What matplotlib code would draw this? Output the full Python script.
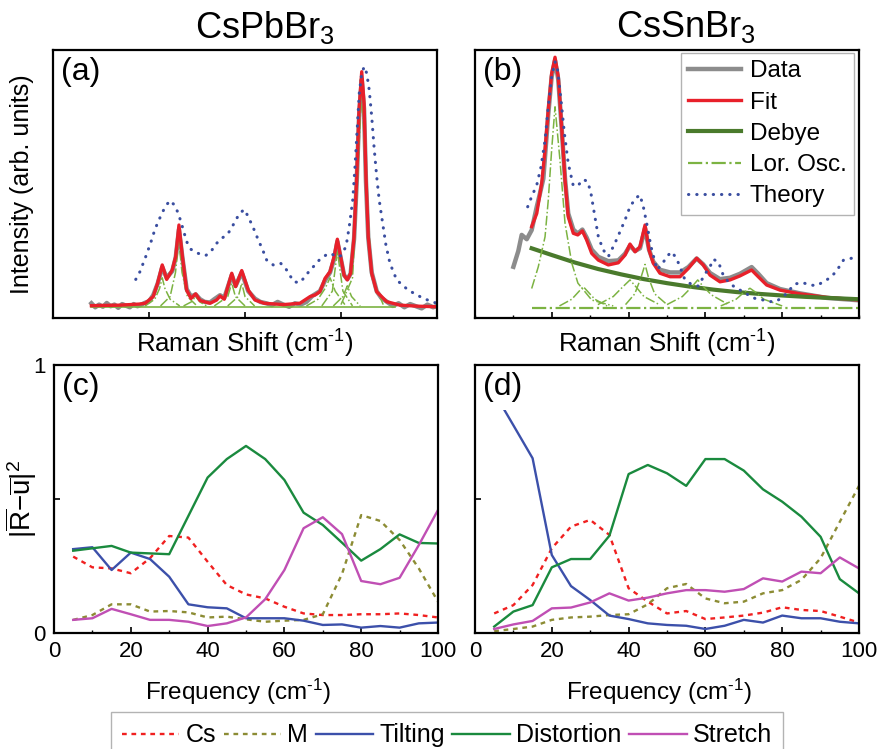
import matplotlib
matplotlib.use('Agg')
import matplotlib.pyplot as plt
from matplotlib.ticker import MultipleLocator, NullFormatter

plt.rcParams['font.family'] = ['Liberation Sans', 'DejaVu Sans']
plt.rcParams['mathtext.fontset'] = 'custom'
plt.rcParams['mathtext.rm'] = 'Liberation Sans'
plt.rcParams['mathtext.it'] = 'Liberation Sans:italic'

# ---------------- panel (a): CsPbBr3 spectrum ----------------
gray_a_x = [20, 22, 24, 26, 28, 30, 32, 34, 36, 38, 40, 42, 44, 46, 48, 50, 52.2, 54.5, 56.9, 59.2,
            62.1, 63.9, 65.6, 67.4, 69.6, 71.9, 74.3, 76.6, 79, 81.8, 84, 87, 89.2, 93.1, 95.1, 98.3,
            101.7, 105.2, 108, 111, 114, 117, 120, 123, 126, 129, 132, 135, 139, 141.7, 144.3, 146.4,
            148.1, 149.8, 151.6, 153.3, 155, 156.8, 158.2, 159.4, 160.8, 162, 163, 164.2, 166, 168.6,
            171, 174, 177, 180, 183, 186, 189, 192, 195, 198, 200]
gray_a_y = [0.055, 0.04, 0.05, 0.042, 0.056, 0.044, 0.05, 0.038, 0.052, 0.046, 0.04, 0.052, 0.044, 0.05,
            0.057, 0.062, 0.085, 0.128, 0.19, 0.15, 0.175, 0.225, 0.33, 0.225, 0.108, 0.08, 0.088, 0.07,
            0.06, 0.058, 0.07, 0.085, 0.075, 0.16, 0.12, 0.17, 0.1, 0.072, 0.06, 0.055, 0.048, 0.06, 0.05,
            0.042, 0.055, 0.05, 0.06, 0.082, 0.1, 0.14, 0.17, 0.22, 0.285, 0.225, 0.16, 0.145, 0.165,
            0.295, 0.51, 0.75, 0.89, 0.78, 0.51, 0.3, 0.17, 0.1, 0.075, 0.06, 0.045, 0.055, 0.04, 0.052,
            0.044, 0.036, 0.05, 0.04, 0.045]

fit_a_x = [20, 35, 45, 48, 52.2, 54.5, 56.9, 59.2, 62.1, 63.9, 65.6, 67.4, 69.6, 71.9, 74.3, 76.6, 81.8,
           85.2, 87, 89.2, 93.1, 95.1, 98.3, 101.7, 105.2, 110, 120, 128.6, 133.9, 136.5, 139, 141.7,
           144.3, 146.4, 148.1, 149.8, 151.6, 153.3, 155, 156.8, 158.2, 159.4, 160.8, 162, 163, 164.2,
           166, 168.6, 173.8, 180.7, 190, 200]
fit_a_y = [0.046, 0.048, 0.052, 0.055, 0.08, 0.13, 0.198, 0.144, 0.179, 0.229, 0.347, 0.229, 0.104,
           0.073, 0.09, 0.065, 0.055, 0.067, 0.082, 0.07, 0.167, 0.117, 0.177, 0.104, 0.067, 0.055, 0.05,
           0.055, 0.08, 0.086, 0.098, 0.148, 0.173, 0.229, 0.294, 0.229, 0.16, 0.142, 0.167, 0.303,
           0.527, 0.776, 0.919, 0.801, 0.527, 0.303, 0.167, 0.098, 0.061, 0.048, 0.044, 0.042]

theo_a_x = [43.1, 45.3, 48.3, 50.9, 53.1, 55.2, 56.9, 58.7, 60.9, 63.2, 65.3, 67.9, 69.6, 71.9, 75.7,
            79.5, 82.3, 84.7, 87.8, 91, 94.8, 96.9, 99.6, 101.7, 105.2, 106.9, 109, 111.3, 114.7, 118.6,
            121.4, 123.8, 125.5, 128.6, 131.2, 133.9, 136.5, 139, 143.4, 149.5, 152.6, 154.3, 156.1,
            157.3, 158.5, 159.5, 160.8, 162.1, 163.4, 164.7, 166, 167.2, 168.6, 169.9, 171.7, 173.4,
            175.5, 179, 185, 192.9, 199.8]
theo_a_y = [0.144, 0.173, 0.229, 0.281, 0.331, 0.366, 0.393, 0.418, 0.438, 0.422, 0.39, 0.328, 0.285,
            0.256, 0.241, 0.233, 0.248, 0.275, 0.297, 0.313, 0.359, 0.388, 0.405, 0.378, 0.322, 0.291,
            0.258, 0.216, 0.198, 0.204, 0.182, 0.154, 0.135, 0.132, 0.154, 0.179, 0.198, 0.219, 0.241,
            0.229, 0.266, 0.341, 0.44, 0.565, 0.714, 0.838, 0.913, 0.938, 0.913, 0.851, 0.751, 0.639,
            0.527, 0.44, 0.353, 0.272, 0.204, 0.142, 0.104, 0.073, 0.055]

lor_a_base_x = [20, 178]
lor_a_base_y = [0.042, 0.042]
lor_a = [
    ([48, 53, 55.5, 56.9, 58.3, 61, 66], [0.045, 0.07, 0.11, 0.15, 0.11, 0.07, 0.045]),
    ([56, 61, 63.8, 65.5, 67.2, 70, 75], [0.045, 0.08, 0.17, 0.29, 0.17, 0.08, 0.045]),
    ([68, 72, 74.3, 76.5, 80], [0.045, 0.06, 0.08, 0.06, 0.045]),
    ([84, 91, 93.1, 95, 100], [0.045, 0.08, 0.13, 0.08, 0.045]),
    ([91, 96.5, 98.3, 100, 105], [0.045, 0.08, 0.13, 0.08, 0.045]),
    ([132, 138, 141.7, 144.3, 147, 152], [0.045, 0.07, 0.11, 0.15, 0.1, 0.05]),
    ([140, 145.5, 148.1, 151, 156], [0.045, 0.1, 0.25, 0.1, 0.045]),
    ([146, 151, 153.3, 155.5, 160], [0.045, 0.08, 0.12, 0.08, 0.045]),
    ([150, 156, 158.5, 160.8, 163, 166, 172], [0.05, 0.15, 0.5, 0.87, 0.5, 0.15, 0.05]),
]

# ---------------- panel (b): CsSnBr3 spectrum ----------------
gray_b_x = [25, 28.2, 30.4, 33.7, 36.9, 40.2, 42.3, 44.5, 47.7, 49.9, 52.1, 54.2, 56.4, 58.6, 60.7, 64,
            66.9, 69.9, 72.7, 76, 80.3, 86.8, 93.3, 97.7, 100.9, 104.2, 107.4, 110.7, 113.3, 116.1,
            120.4, 127, 133.5, 138.9, 144.3, 148.6, 153, 159.5, 166, 172.5, 180.1, 184.4, 189.9, 198.6,
            211.6, 229, 250]
gray_b_y = [0.191, 0.25, 0.31, 0.294, 0.328, 0.415, 0.465, 0.52, 0.76, 0.9, 0.96, 0.89, 0.71, 0.52,
            0.39, 0.33, 0.315, 0.33, 0.3, 0.255, 0.228, 0.212, 0.215, 0.24, 0.27, 0.25, 0.26, 0.335,
            0.255, 0.21, 0.18, 0.17, 0.17, 0.19, 0.222, 0.2, 0.168, 0.145, 0.15, 0.165, 0.19, 0.165,
            0.13, 0.108, 0.092, 0.075, 0.066]

fit_b_x = [36.9, 40.2, 43.4, 45.6, 47.7, 49.9, 52.1, 54.2, 56.4, 58.6, 60.7, 64, 66.9, 69.9, 72.7, 76,
           80.3, 86.8, 93.3, 97.7, 100.9, 104.2, 107.4, 110.7, 113.3, 116.1, 120.4, 127, 133.5, 138.9,
           144.3, 148.6, 153, 159.5, 166, 172.5, 180.1, 184.4, 189.9, 198.6, 211.6, 229, 250]
fit_b_y = [0.341, 0.39, 0.502, 0.627, 0.776, 0.913, 0.973, 0.9, 0.714, 0.515, 0.378, 0.316, 0.31,
           0.325, 0.291, 0.241, 0.216, 0.198, 0.206, 0.235, 0.276, 0.247, 0.266, 0.347, 0.254, 0.204,
           0.167, 0.154, 0.154, 0.185, 0.223, 0.198, 0.16, 0.135, 0.142, 0.157, 0.179, 0.154, 0.123,
           0.104, 0.09, 0.077, 0.067]

debye_x = [36.9, 50, 65, 80, 95, 110, 125, 140, 155, 170, 185, 200, 215, 230, 250]
debye_y = [0.26, 0.235, 0.207, 0.183, 0.163, 0.145, 0.13, 0.117, 0.106, 0.097, 0.09, 0.084, 0.079,
           0.075, 0.07]

theo_b_x = [34.3, 36.9, 40.2, 43, 45.6, 47.7, 49.9, 52.1, 53.8, 56, 58.2, 60.7, 64, 67.3, 70.5, 73.4,
            75.5, 77.7, 80.3, 83.5, 86.8, 91.1, 94.4, 97.7, 100.9, 104.6, 107.4, 109.6, 111.8, 114.6,
            118.5, 122.2, 124.8, 128, 130.9, 133, 136.3, 140.4, 145.4, 149.7, 153, 155.1, 158.4, 161.6,
            164.9, 169.3, 173.6, 177.9, 182.3, 187.7, 192.1, 196.4, 201.2, 204.6, 208.3, 213.3, 218.1,
            222.5, 226.8, 231.1, 235.1, 239.9, 245.2, 248.9]
theo_b_y = [0.415, 0.453, 0.496, 0.565, 0.664, 0.788, 0.9, 0.956, 0.925, 0.813, 0.689, 0.577, 0.493,
            0.496, 0.517, 0.509, 0.465, 0.39, 0.303, 0.254, 0.229, 0.279, 0.322, 0.366, 0.415, 0.447,
            0.459, 0.415, 0.353, 0.266, 0.18, 0.204, 0.229, 0.247, 0.225, 0.198, 0.148, 0.127, 0.119,
            0.164, 0.191, 0.219, 0.21, 0.16, 0.135, 0.114, 0.101, 0.086, 0.073, 0.067, 0.061, 0.063,
            0.082, 0.104, 0.127, 0.132, 0.123, 0.121, 0.135, 0.15, 0.173, 0.216, 0.223, 0.204]

lor_b_base_x = [36.9, 250]
lor_b_base_y = [0.036, 0.036]
lor_b = [
    ([36.9, 41.2, 45.6, 47.7, 49.9, 52.1, 55.3, 58.6, 63, 67, 76, 90],
     [0.11, 0.191, 0.303, 0.44, 0.627, 0.788, 0.59, 0.354, 0.205, 0.13, 0.067, 0.045]),
    ([55, 63, 67, 70.5, 74, 78, 86], [0.045, 0.07, 0.095, 0.117, 0.095, 0.07, 0.045]),
    ([80, 90, 96, 100.9, 105, 110, 120], [0.05, 0.08, 0.115, 0.142, 0.115, 0.08, 0.05]),
    ([98, 104, 108, 110.7, 113, 117, 125], [0.05, 0.09, 0.15, 0.2, 0.15, 0.09, 0.05]),
    ([125, 135, 141, 145, 149, 154, 165], [0.05, 0.08, 0.115, 0.142, 0.115, 0.086, 0.05]),
    ([160, 170, 175, 179, 183, 188, 200], [0.045, 0.07, 0.095, 0.111, 0.095, 0.07, 0.045]),
]

# ---------------- panels (c), (d): mode projections ----------------
freq = [5, 10, 15, 20, 25, 30, 35, 40, 45, 50, 55, 60, 65, 70, 75, 80, 85, 90, 95, 100]

c_cs = [0.285, 0.245, 0.241, 0.223, 0.279, 0.362, 0.356, 0.266, 0.179, 0.144, 0.129, 0.098, 0.073,
        0.067, 0.067, 0.07, 0.07, 0.073, 0.067, 0.058]
c_m = [0.049, 0.067, 0.107, 0.107, 0.08, 0.082, 0.077, 0.058, 0.061, 0.051, 0.042, 0.046, 0.049, 0.07,
       0.22, 0.44, 0.418, 0.347, 0.241, 0.117]
c_tilt = [0.313, 0.32, 0.235, 0.3, 0.276, 0.21, 0.107, 0.096, 0.092, 0.055, 0.055, 0.055, 0.046, 0.03,
          0.032, 0.02, 0.026, 0.02, 0.036, 0.039]
c_dist = [0.307, 0.316, 0.325, 0.3, 0.297, 0.294, 0.437, 0.58, 0.649, 0.698, 0.649, 0.571, 0.449,
          0.403, 0.337, 0.27, 0.313, 0.368, 0.336, 0.334]
c_str = [0.049, 0.055, 0.09, 0.07, 0.049, 0.049, 0.042, 0.026, 0.036, 0.058, 0.126, 0.235, 0.391,
         0.432, 0.369, 0.194, 0.182, 0.206, 0.328, 0.459]

d_cs = [0.073, 0.104, 0.179, 0.316, 0.397, 0.422, 0.366, 0.167, 0.117, 0.073, 0.082, 0.052, 0.058,
        0.065, 0.076, 0.096, 0.086, 0.082, 0.061, 0.039]
d_m = [0.007, 0.015, 0.024, 0.049, 0.058, 0.061, 0.067, 0.07, 0.107, 0.167, 0.183, 0.129, 0.111,
       0.117, 0.148, 0.16, 0.198, 0.279, 0.415, 0.549]
d_tilt = [0.897, 0.775, 0.652, 0.291, 0.175, 0.123, 0.065, 0.052, 0.036, 0.03, 0.027, 0.015, 0.027,
          0.049, 0.039, 0.065, 0.055, 0.055, 0.042, 0.036]
d_dist = [0.024, 0.08, 0.104, 0.245, 0.276, 0.276, 0.363, 0.593, 0.627, 0.596, 0.549, 0.649, 0.649,
          0.606, 0.536, 0.49, 0.434, 0.359, 0.201, 0.148]
d_str = [0.015, 0.032, 0.045, 0.092, 0.095, 0.114, 0.148, 0.121, 0.132, 0.148, 0.16, 0.16, 0.154,
         0.164, 0.204, 0.192, 0.229, 0.223, 0.282, 0.241]

mode_names = ['Cs', 'M', 'Tilting', 'Distortion', 'Stretch']

# colours
c_gray = '#8c8c8c'
c_red = '#e8202a'
c_debye = '#4a7a2c'
c_lor = '#7cb342'
c_theo = '#3a4ea0'
mode_colors = ['#f02020', '#8c8c34', '#3c50aa', '#1a8a3e', '#c04fb4']
mode_styles = [(0, (2, 2)), (0, (2, 2)), '-', '-', '-']

W, H = 880, 749
fig = plt.figure(figsize=(W / 100, H / 100), dpi=100)


def px_axes(l, t, r, b):
    return fig.add_axes([l / W, 1 - b / H, (r - l) / W, (b - t) / H])


ax_a = px_axes(53, 50, 437, 318)
ax_b = px_axes(475, 50, 859, 318)
ax_c = px_axes(54, 365, 438, 633)
ax_d = px_axes(475, 365, 859, 633)

for ax in [ax_a, ax_b, ax_c, ax_d]:
    for s in ax.spines.values():
        s.set_linewidth(1.6)
    ax.tick_params(direction='in', length=4, width=1.2, labelsize=16, pad=6)
    ax.tick_params(which='minor', direction='in', length=2.5, width=1.0)

# spectra
ax_a.plot(gray_a_x, gray_a_y, color=c_gray, lw=3.2, solid_joinstyle='round')
ax_a.plot(lor_a_base_x, lor_a_base_y, color=c_lor, lw=1.2)
for lx, ly in lor_a:
    ax_a.plot(lx, ly, color=c_lor, lw=1.1, ls='-.')
ax_a.plot(fit_a_x, fit_a_y, color=c_red, lw=2.4, solid_joinstyle='round')
ax_a.plot(theo_a_x, theo_a_y, color=c_theo, lw=2.2, ls=(0, (0.1, 2.6)), dash_capstyle='round')
ax_a.set_xlim(0, 200)
ax_a.set_ylim(0, 1)
ax_a.set_xticks([50, 100, 150])
ax_a.xaxis.set_major_formatter(NullFormatter())
ax_a.set_yticks([])

ax_b.plot(gray_b_x, gray_b_y, color=c_gray, lw=3.2, solid_joinstyle='round', label='Data')
ax_b.plot(fit_b_x, fit_b_y, color=c_red, lw=2.4, solid_joinstyle='round', label='Fit')
ax_b.plot(debye_x, debye_y, color=c_debye, lw=3.0, label='Debye')
ax_b.plot(lor_b_base_x, lor_b_base_y, color=c_lor, lw=1.6, ls='-.', label='Lor. Osc.')
for lx, ly in lor_b:
    ax_b.plot(lx, ly, color=c_lor, lw=1.1, ls='-.')
ax_b.plot(theo_b_x, theo_b_y, color=c_theo, lw=2.2, ls=(0, (0.1, 2.6)), dash_capstyle='round',
          label='Theory')
ax_b.set_xlim(0, 250)
ax_b.set_ylim(0, 1)
ax_b.set_xticks([50, 100, 150, 200])
ax_b.xaxis.set_minor_locator(MultipleLocator(25))
ax_b.xaxis.set_major_formatter(NullFormatter())
ax_b.set_yticks([])
leg_b = ax_b.legend(loc='upper right', bbox_to_anchor=(854 / W, 1 - 53 / H),
                    bbox_transform=fig.transFigure, fontsize=17.5, frameon=True, fancybox=False,
                    edgecolor='#a0a0a0', handlelength=2.2, handletextpad=0.35, labelspacing=0.38,
                    borderpad=0.3, borderaxespad=0)
leg_b.get_frame().set_linewidth(1.0)
leg_b.set_zorder(0)

# mode projections
for ax, series in [(ax_c, [c_cs, c_m, c_tilt, c_dist, c_str]),
                   (ax_d, [d_cs, d_m, d_tilt, d_dist, d_str])]:
    for vals, col, ls, name in zip(series, mode_colors, mode_styles, mode_names):
        ax.plot(freq, vals, color=col, ls=ls, lw=1.7, label=name)
    ax.set_xlim(0, 100)
    ax.set_ylim(0, 1)
    ax.set_xticks([0, 20, 40, 60, 80, 100])
    ax.xaxis.set_minor_locator(MultipleLocator(10))
    ax.set_yticks([0, 0.5, 1])

ax_c.set_yticklabels(['0', '', '1'])
ax_d.set_yticklabels(['', '', ''])

# panel letters (white box hides the start of the tilting line in (d), as in the original);
# zorder keeps the box above the curves but below the frame
for ax, lab in [(ax_a, '(a)'), (ax_b, '(b)'), (ax_c, '(c)'), (ax_d, '(d)')]:
    ax.text(0.022, 0.975, lab, transform=ax.transAxes, fontsize=23, va='top', ha='left',
            bbox=dict(facecolor='white', edgecolor='none', pad=6), zorder=2.3)

# titles and axis labels
cm_inv = r'(cm$^{\mathregular{\text{-}1}}$)'
fig.text(265 / W, 1 - 27 / H, r'CsPbBr$_3$', fontsize=26, ha='center', va='center')
fig.text(686 / W, 1 - 27 / H, r'CsSnBr$_3$', fontsize=26, ha='center', va='center')
fig.text(245 / W, 1 - 344 / H, 'Raman Shift ' + cm_inv, fontsize=18.5, ha='center', va='center')
fig.text(667 / W, 1 - 344 / H, 'Raman Shift ' + cm_inv, fontsize=18.5, ha='center', va='center')
fig.text(238 / W, 1 - 692 / H, 'Frequency ' + cm_inv, fontsize=17.5, ha='center', va='center')
fig.text(659 / W, 1 - 692 / H, 'Frequency ' + cm_inv, fontsize=17.5, ha='center', va='center')
fig.text(22 / W, 1 - 184 / H, 'Intensity (arb. units)', fontsize=18, rotation=90,
         ha='center', va='center')
fig.text(21 / W, 1 - 499 / H, r'$|\overline{\mathrm{R}}\mathrm{-}\overline{\mathrm{u}}|^2$',
         fontsize=20, rotation=90, ha='center', va='center')

handles, labels = ax_c.get_legend_handles_labels()
leg = fig.legend(handles, labels, loc='upper center', bbox_to_anchor=(447 / W, 1 - 712 / H),
                 ncol=5, fontsize=18, frameon=True, fancybox=False, edgecolor='#a0a0a0',
                 handlelength=2.3, handletextpad=0.25, columnspacing=0.3, borderpad=0.45,
                 borderaxespad=0)
leg.get_frame().set_linewidth(1.0)

fig.savefig('out.png', dpi=100)
